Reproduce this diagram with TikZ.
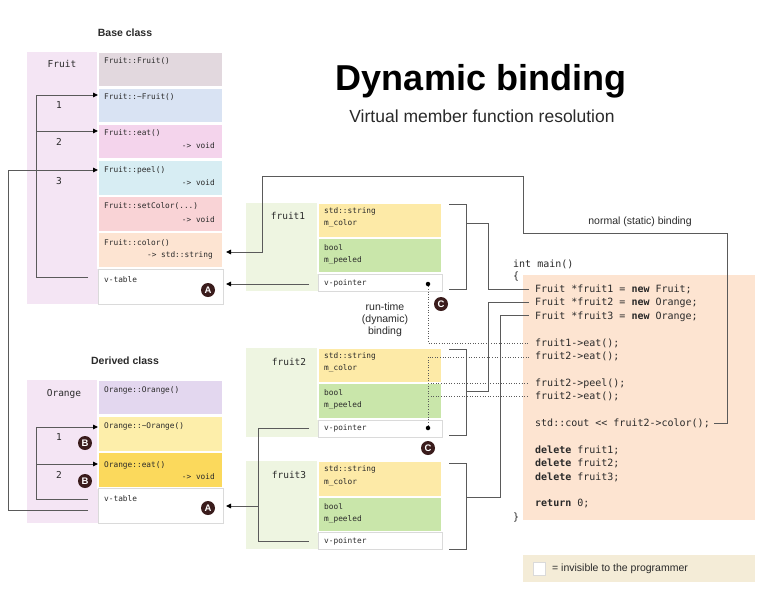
\documentclass[tikz,border=0pt]{standalone}
\usepackage{fontspec}
\setmainfont{Liberation Sans}
\newfontfamily\codefont{DejaVu Sans Mono}
\usetikzlibrary{arrows.meta}

\definecolor{panelpink}{HTML}{F4E5F4}
\definecolor{panelgreen}{HTML}{EEF5E1}
\definecolor{cFctor}{HTML}{E2D8DE}
\definecolor{cFdtor}{HTML}{D9E3F3}
\definecolor{cFeat}{HTML}{F4D4EC}
\definecolor{cFpeel}{HTML}{D7EDF3}
\definecolor{cFset}{HTML}{F9D3D6}
\definecolor{cFcolor}{HTML}{FDE4D2}
\definecolor{cOctor}{HTML}{E3D7EF}
\definecolor{cOdtor}{HTML}{FDEEAA}
\definecolor{cOeat}{HTML}{FBD95C}
\definecolor{cStr}{HTML}{FDEAA7}
\definecolor{cBool}{HTML}{C9E6AA}
\definecolor{codebg}{HTML}{FDE4D1}
\definecolor{legendbg}{HTML}{F4ECD7}
\definecolor{badgec}{HTML}{3A1C1C}
\definecolor{linec}{HTML}{5A5A5A}
\definecolor{txt}{HTML}{2A2A2A}
\definecolor{edgec}{HTML}{DADADA}

\begin{document}
\begin{tikzpicture}[x=1pt,y=-1pt,
  panel/.style={rectangle, inner sep=0pt, outer sep=0pt, anchor=north west},
  mbox/.style={panel, draw=white, line width=1.5pt, minimum width=125pt},
  obox/.style={panel, draw=white, line width=1.5pt, minimum width=124pt},
  vbox/.style={fill=white, draw=edgec, line width=0.6pt},
  small/.style={font=\codefont\fontsize{7.8}{9}\selectfont, text=txt, inner sep=0pt, anchor=base west},
  ret/.style={small, anchor=base east},
  lbl/.style={font=\codefont\fontsize{9.5}{11}\selectfont, text=txt, inner sep=0pt},
  code/.style={font=\codefont\fontsize{10}{12}\selectfont, text=txt, inner sep=0pt, anchor=base west},
  note/.style={font=\fontsize{10.5}{12}\selectfont, text=txt, inner sep=0pt},
  head/.style={font=\bfseries\fontsize{10.5}{12}\selectfont, text=txt, inner sep=0pt},
  ln/.style={draw=linec, line width=0.9pt},
  arr/.style={ln, -{Triangle[length=5pt,width=4.5pt,color=black]}},
  dotln/.style={draw=linec, line width=0.8pt, dash pattern=on 1pt off 1.6pt},
  badge/.style={circle, fill=badgec, text=white, font=\bfseries\fontsize{9.5}{9.5}\selectfont, inner sep=0pt, minimum size=14pt},
  pin/.style={circle, fill=black, inner sep=0pt, minimum size=4.5pt}
]
\useasboundingbox[fill=white] (0,0) rectangle (780,590);

% ---------- titles ----------
\node[font=\bfseries\fontsize{36}{40}\selectfont, text=black, inner sep=0pt, anchor=base] (title) at (481,90) {Dynamic binding};
\node[font=\fontsize{17.5}{20}\selectfont, text=txt, inner sep=0pt, anchor=base] (subtitle) at (482,122) {Virtual member function resolution};

% ---------- base class ----------
\node[head] (basehead) at (125,33) {Base class};
\node[panel, fill=panelpink, minimum width=72pt, minimum height=252pt] (fpanel) at (27,52) {};
\node[mbox, fill=cFctor,  minimum height=35pt] (fctor)  at (98,52)  {};
\node[mbox, fill=cFdtor,  minimum height=35pt] (fdtor)  at (98,88)  {};
\node[mbox, fill=cFeat,   minimum height=35pt] (feat)   at (98,124) {};
\node[mbox, fill=cFpeel,  minimum height=36pt] (fpeel)  at (98,160) {};
\node[mbox, fill=cFset,   minimum height=36pt] (fset)   at (98,196) {};
\node[mbox, fill=cFcolor, minimum height=36pt] (fcolor) at (98,232) {};
\node[mbox, vbox, minimum height=35pt] (fvt) at (98,269) {};

\node[lbl] (fname) at (62,64) {Fruit};
\node[small] (fctort)  at (104,63.5)  {Fruit::Fruit()};
\node[small] (fdtort)  at (104,99.5)  {Fruit::\textasciitilde Fruit()};
\node[small] (featt)   at (104,135.5) {Fruit::eat()};
\node[ret]   (featr)   at (215,148.5) {-> void};
\node[small] (fpeelt)  at (104,172.5) {Fruit::peel()};
\node[ret]   (fpeelr)  at (215,185.5) {-> void};
\node[small] (fsett)   at (104,208.5) {Fruit::setColor(...)};
\node[ret]   (fsetr)   at (215,222)   {-> void};
\node[small] (fcolort) at (104,245)   {Fruit::color()};
\node[ret]   (fcolorr) at (213,257.5) {-> std::string};
\node[small] (fvtt)    at (104,282.5) {v-table};
\node[badge] (A1) at (208,290) {A};

\node[lbl] (n1) at (59,105) {1};
\node[lbl] (n2) at (59,142) {2};
\node[lbl] (n3) at (59,181) {3};

\draw[ln] (88,277) -- (36,277) -- (36,95);
\draw[arr] (36,95) -- (fdtor.west |- 0,95);
\draw[arr] (36,131) -- (feat.west |- 0,131);

% ---------- derived class ----------
\node[head] (derhead) at (125,361) {Derived class};
\node[panel, fill=panelpink, minimum width=72pt, minimum height=143pt] (opanel) at (27,380) {};
\node[mbox, fill=cOctor, minimum height=35pt] (octor) at (98,380) {};
\node[mbox, fill=cOdtor, minimum height=36pt] (odtor) at (98,416) {};
\node[mbox, fill=cOeat,  minimum height=36pt] (oeat)  at (98,452) {};
\node[mbox, vbox, minimum height=35pt] (ovt) at (98,488) {};

\node[lbl] (oname) at (64,394) {Orange};
\node[small] (octort) at (104,392.5) {Orange::Orange()};
\node[small] (odtort) at (104,428.5) {Orange::\textasciitilde Orange()};
\node[small] (oeatt)  at (104,467)   {Orange::eat()};
\node[ret]   (oeatr)  at (215,479)   {-> void};
\node[small] (ovtt)   at (104,501.5) {v-table};
\node[badge] (A2) at (208,508) {A};

\node[lbl] (m1) at (59,437) {1};
\node[lbl] (m2) at (59,475) {2};
\node[badge] (B1) at (85,443) {B};
\node[badge] (B2) at (85,481) {B};

\draw[ln] (88,499) -- (36,499) -- (36,427);
\draw[arr] (36,427) -- (odtor.west |- 0,427);
\draw[arr] (36,464) -- (oeat.west |- 0,464);
% inherited slot 3 points back to Fruit::peel()
\draw[arr] (88,510) -- (8,510) -- (8,170) -- (fpeel.west |- 0,170);

% ---------- objects ----------
\node[panel, fill=panelgreen, minimum width=72pt, minimum height=88pt] (g1) at (246,203) {};
\node[obox, fill=cStr,  minimum height=35pt] (s1) at (318,203) {};
\node[obox, fill=cBool, minimum height=35pt] (b1) at (318,238) {};
\node[obox, vbox, minimum height=17pt] (v1) at (318,274) {};
\node[lbl] (o1) at (288,216) {fruit1};
\node[small] (s1a) at (324,213.5) {std::string};
\node[small] (s1b) at (324,225.5) {m\_color};
\node[small] (b1a) at (324,250.5) {bool};
\node[small] (b1b) at (324,262.5) {m\_peeled};
\node[small] (v1a) at (324,285.5) {v-pointer};

\node[panel, fill=panelgreen, minimum width=72pt, minimum height=89pt] (g2) at (246,348) {};
\node[obox, fill=cStr,  minimum height=35pt] (s2) at (318,348) {};
\node[obox, fill=cBool, minimum height=36pt] (b2) at (318,383) {};
\node[obox, vbox, minimum height=17pt] (v2) at (318,420) {};
\node[lbl] (o2) at (289,362) {fruit2};
\node[small] (s2a) at (324,358.5) {std::string};
\node[small] (s2b) at (324,370.5) {m\_color};
\node[small] (b2a) at (324,395.5) {bool};
\node[small] (b2b) at (324,407.5) {m\_peeled};
\node[small] (v2a) at (324,430.5) {v-pointer};

\node[panel, fill=panelgreen, minimum width=72pt, minimum height=88pt] (g3) at (246,461) {};
\node[obox, fill=cStr,  minimum height=36pt] (s3) at (318,461) {};
\node[obox, fill=cBool, minimum height=35pt] (b3) at (318,497) {};
\node[obox, vbox, minimum height=17pt] (v3) at (318,532) {};
\node[lbl] (o3) at (289,475) {fruit3};
\node[small] (s3a) at (324,471.5) {std::string};
\node[small] (s3b) at (324,484.5) {m\_color};
\node[small] (b3a) at (324,509.5) {bool};
\node[small] (b3b) at (324,521.5) {m\_peeled};
\node[small] (v3a) at (324,543.5) {v-pointer};

% v-pointers to v-tables
\draw[arr] (309,284) -- (226,284);
\draw[ln] (309,428) -- (258,428) -- (258,541) -- (309,541);
\draw[arr] (258,506) -- (226,506);

% ---------- code ----------
\node[panel, fill=codebg, minimum width=232pt, minimum height=245pt] (codebox) at (523,275) {};
\node[code] (k0)  at (513,267.5) {int main()};
\node[code] (k1)  at (513,279.5) {\{};
\node[code] (c1)  at (535,292.5) {Fruit *fruit1 = \textbf{new} Fruit;};
\node[code] (c2)  at (535,305.9) {Fruit *fruit2 = \textbf{new} Orange;};
\node[code] (c3)  at (535,319.3) {Fruit *fruit3 = \textbf{new} Orange;};
\node[code] (c4)  at (535,346.1) {fruit1->eat();};
\node[code] (c5)  at (535,359.5) {fruit2->eat();};
\node[code] (c6)  at (535,386.3) {fruit2->peel();};
\node[code] (c7)  at (535,399.7) {fruit2->eat();};
\node[code] (c8)  at (535,426.5) {std::cout <{}< fruit2->color();};
\node[code] (c9)  at (535,453.3) {\textbf{delete} fruit1;};
\node[code] (c10) at (535,466.7) {\textbf{delete} fruit2;};
\node[code] (c11) at (535,480.1) {\textbf{delete} fruit3;};
\node[code] (c12) at (535,506.9) {\textbf{return} 0;};
\node[code] (k2)  at (513,520.5) {\}};

% object brackets to their allocations
\draw[ln] (449,204) -- (466,204) -- (466,289) -- (449,289);
\draw[ln] (466,223) -- (488,223) -- (488,289) -- ([xshift=-6pt]c1.west |- 0,289);
\draw[ln] (449,349) -- (466,349) -- (466,435) -- (449,435);
\draw[ln] (466,391) -- (488,391) -- (488,302) -- ([xshift=-6pt]c2.west |- 0,302);
\draw[ln] (449,463) -- (466,463) -- (466,549) -- (449,549);
\draw[ln] (466,497) -- (500,497) -- (500,315) -- ([xshift=-6pt]c3.west |- 0,315);

% normal (static) binding
\draw[arr] ([xshift=4pt]c8.east |- 0,423.5) -- (727,423.5) -- (727,233) -- (523,233) -- (523,176) -- (262,176) -- (262,252) -- (226,252);
\node[note] (static) at (640,222) {normal (static) binding};

% run-time (dynamic) binding
\node[pin] (p1) at (428,284) {};
\node[pin] (p2) at (428,428) {};
\draw[dotln] (p1) -- (428,343) -- ([xshift=-6pt]c4.west |- 0,343);
\draw[dotln] (p2) -- (428,357) -- ([xshift=-6pt]c5.west |- 0,357);
\draw[dotln] (428,383) -- ([xshift=-6pt]c6.west |- 0,383);
\draw[dotln] (428,396) -- ([xshift=-6pt]c7.west |- 0,396);
\node[badge] (C1) at (441,304) {C};
\node[badge] (C2) at (428,448) {C};
\node[note, align=center] (dyn) at (385,320) {run-time\\(dynamic)\\binding};

% ---------- legend ----------
\node[panel, fill=legendbg, minimum width=232pt, minimum height=27pt] (legend) at (523,555) {};
\node[panel, fill=white, draw=edgec, line width=0.5pt, minimum width=12pt, minimum height=13pt] (lsq) at (533,562) {};
\node[note, anchor=west] (ltxt) at (552,569) {= invisible to the programmer};
\end{tikzpicture}
\end{document}
